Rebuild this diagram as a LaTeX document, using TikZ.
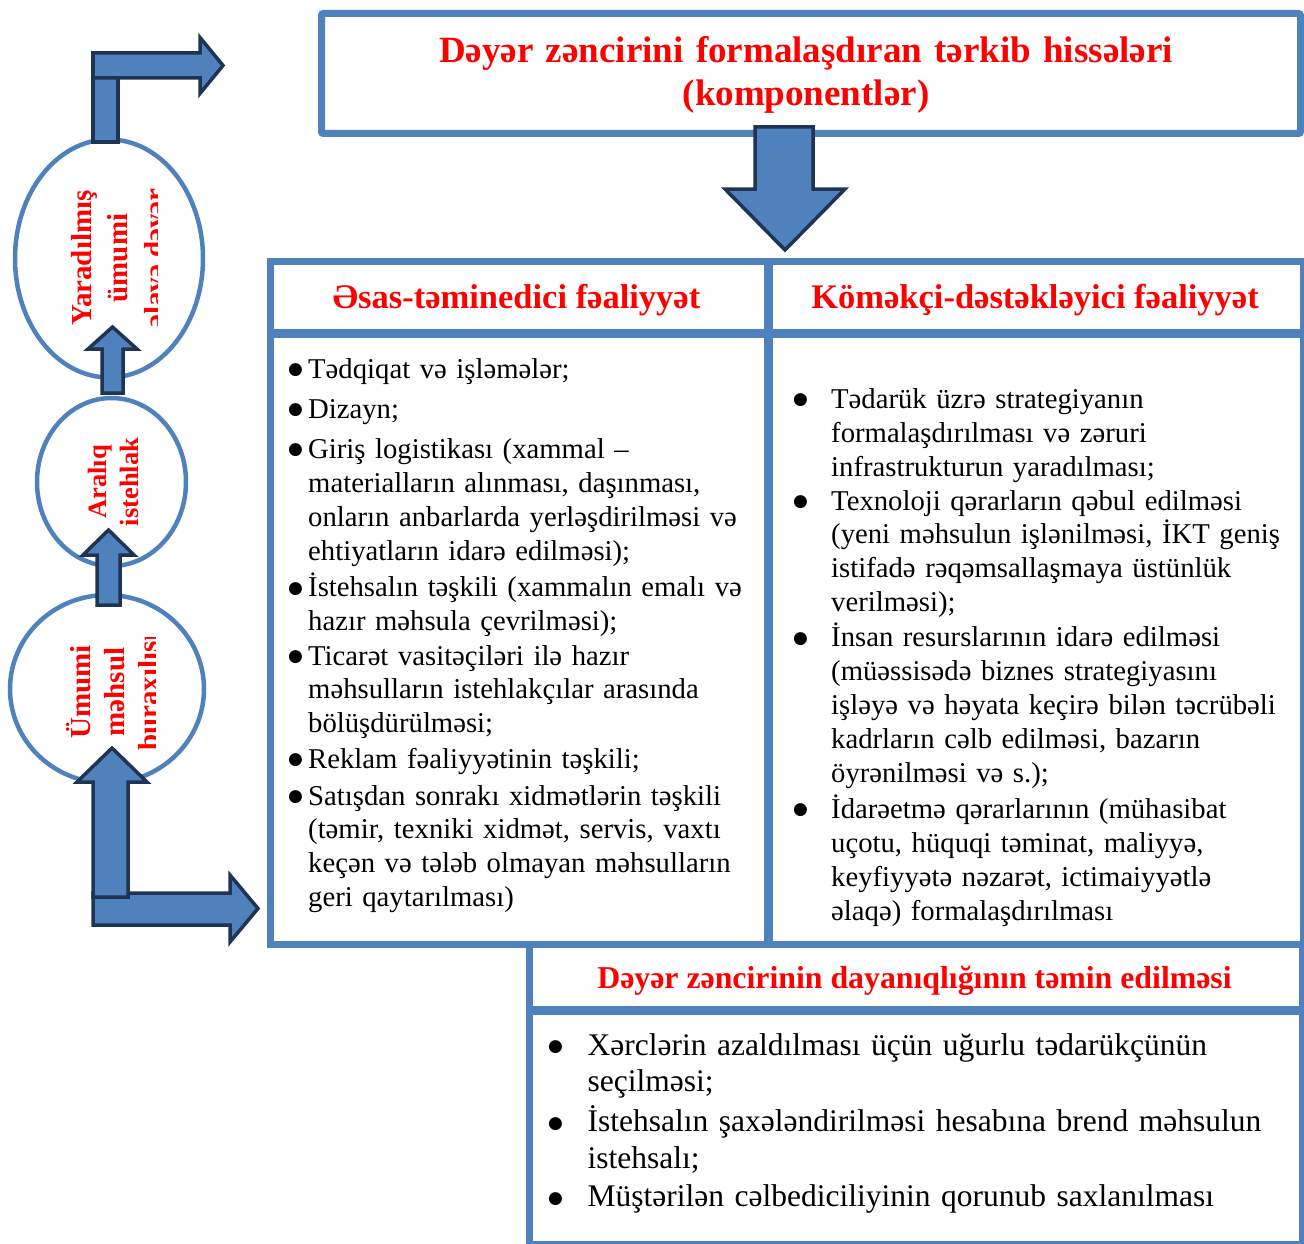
\documentclass[tikz,border=0pt]{standalone}
\usepackage{fontspec}
\setmainfont{Liberation Serif}
\newfontfamily\djv{DejaVu Sans}
\usetikzlibrary{shapes.geometric}
\definecolor{bblue}{RGB}{79,129,189}
\definecolor{adark}{RGB}{31,52,83}
\definecolor{tred}{RGB}{255,0,0}
\newcommand\bulx[1]{\makebox[#1][l]{\hspace{-2pt}\raisebox{3.5pt}{\djv\fontsize{17}{17}\selectfont ●}}}
\newcommand\itm[2]{\hangindent=#1\hangafter=1 \bulx{#1}#2\par}
\tikzset{
  frame/.style={draw=bblue, line width=7pt, inner sep=0pt, anchor=north west},
  sepline/.style={draw=bblue, line width=9pt},
  ell/.style={ellipse, draw=bblue, line width=4.5pt, fill=white, inner sep=0pt},
  blockarrow/.style={fill=bblue, draw=adark, line width=3.5pt, line join=miter, miter limit=10},
  headtxt/.style={text=tred, inner sep=0pt, anchor=base},
  eltxt/.style={text=tred, inner sep=0pt, anchor=base, rotate=90, font=\bfseries\fontsize{29}{34}\selectfont},
  bodytxt/.style={inner sep=0pt, anchor=base west, align=left, text width=700pt, font=\fontsize{28.7}{33.9}\selectfont},
  bodybig/.style={inner sep=0pt, anchor=base west, align=left, text width=740pt, font=\fontsize{31.5}{36.7}\selectfont},
}
\begin{document}
\begin{tikzpicture}[x=1pt, y=-1pt]
\useasboundingbox (0,0) rectangle (1304,1244);

% boxes
\node[frame, rounded corners=2pt, minimum width=979pt, minimum height=120pt] (topbox) at (318,10) {};
\node[frame, minimum width=1033pt, minimum height=682.7pt] (tbl) at (266.5,258.3) {};
\draw[sepline] (266.5,333.5) -- (1299.5,333.5);
\draw[sepline] (768,258.3) -- (768,941);
\node[frame, minimum width=772.5pt, minimum height=299.5pt] (bbox) at (526,941) {};
\draw[sepline] (526,1010) -- (1298.5,1010);

% ellipses
\node[ell, minimum width=188pt, minimum height=238pt] (e1) at (109,258.5) {};
\node[ell, minimum width=149pt, minimum height=168pt] (e2) at (111.5,482) {};
\node[ell, minimum width=194pt, minimum height=188pt] (e3) at (107,689) {};

\begin{scope}
\clip (40,186) rectangle (157,331);
\node[eltxt] (e1a) at (91,258) {Yaradılmış};
\node[eltxt] (e1b) at (127,258) {ümumi};
\node[eltxt] (e1c) at (164,258) {əlavə dəyər};
\end{scope}
\node[eltxt, font=\bfseries\fontsize{26.5}{32}\selectfont] (e2a) at (106,482) {Aralıq};
\node[eltxt, font=\bfseries\fontsize{26.5}{32}\selectfont] (e2b) at (138.5,482) {istehlak};
\begin{scope}
\clip (40,637) rectangle (155,749);
\node[eltxt] (e3a) at (90,692) {Ümumi};
\node[eltxt] (e3b) at (124,692) {məhsul};
\node[eltxt] (e3c) at (158,692) {buraxılışı};
\end{scope}

% block arrows
\draw[blockarrow] (93,53) rectangle (118,142);
\draw[blockarrow] (93,53) -- (200,53) -- (200,37.5) -- (223,65.5) -- (200,93.5) -- (200,78) -- (93,78) -- cycle;
\draw[blockarrow] (102,393) -- (102,349) -- (88,349) -- (112.5,327) -- (137,349) -- (123,349) -- (123,393) -- cycle;
\draw[blockarrow] (97,605) -- (97,555) -- (83,555) -- (108.5,530) -- (134,555) -- (120,555) -- (120,605) -- cycle;
\draw[blockarrow] (93,893) -- (230,893) -- (230,875) -- (258,908.5) -- (230,942) -- (230,925) -- (93,925) -- cycle;
\draw[blockarrow] (93,897) -- (93,782) -- (77,782) -- (112,748) -- (147,782) -- (128,782) -- (128,897) -- cycle;
\draw[blockarrow] (755,127) -- (813,127) -- (813,189) -- (845,189) -- (785,250) -- (725,189) -- (755,189) -- cycle;

% headings
\node[headtxt, font=\bfseries\fontsize{37}{43.3}\selectfont, text width=1000pt, align=center] (title) at (806,62.7) {Dəyər zəncirini formalaşdıran tərkib hissələri\\(komponentlər)};
\node[headtxt, font=\bfseries\fontsize{34.5}{40}\selectfont] (h1) at (516.5,308) {Əsas-təminedici fəaliyyət};
\node[headtxt, font=\bfseries\fontsize{34.5}{40}\selectfont] (h2) at (1035,308) {Köməkçi-dəstəkləyici fəaliyyət};
\node[headtxt, font=\bfseries\fontsize{31.8}{36}\selectfont] (h3) at (914.5,988) {Dəyər zəncirinin dayanıqlığının təmin edilməsi};

% left cell
\node[bodytxt] (l1) at (290,378.3) {\itm{18pt}{Tədqiqat və işləmələr;}};
\node[bodytxt] (l2) at (290,418.3) {\itm{18pt}{Dizayn;}};
\node[bodytxt] (l3) at (290,458.3) {\itm{18pt}{Giriş logistikası (xammal –\newline materialların alınması, daşınması,\newline onların anbarlarda yerləşdirilməsi və\newline ehtiyatların idarə edilməsi);}};
\node[bodytxt] (l4) at (290,596.7) {\itm{18pt}{İstehsalın təşkili (xammalın emalı və\newline hazır məhsula çevrilməsi);}};
\node[bodytxt] (l5) at (290,665) {\itm{18pt}{Ticarət vasitəçiləri ilə hazır\newline məhsulların istehlakçılar arasında\newline bölüşdürülməsi;}};
\node[bodytxt] (l6) at (290,768.3) {\itm{18pt}{Reklam fəaliyyətinin təşkili;}};
\node[bodytxt] (l7) at (290,805) {\itm{18pt}{Satışdan sonrakı xidmətlərin təşkili\newline (təmir, texniki xidmət, servis, vaxtı\newline keçən və tələb olmayan məhsulların\newline geri qaytarılması)}};

% right cell
\node[bodytxt] (r1) at (795,408.3) {\itm{36pt}{Tədarük üzrə strategiyanın\newline formalaşdırılması və zəruri\newline infrastrukturun yaradılması;}};
\node[bodytxt] (r2) at (795,510) {\itm{36pt}{Texnoloji qərarların qəbul edilməsi\newline (yeni məhsulun işlənilməsi, İKT geniş\newline istifadə rəqəmsallaşmaya üstünlük\newline verilməsi);}};
\node[bodytxt] (r3) at (795,646.7) {\itm{36pt}{İnsan resurslarının idarə edilməsi\newline (müəssisədə biznes strategiyasını\newline işləyə və həyata keçirə bilən təcrübəli\newline kadrların cəlb edilməsi, bazarın\newline öyrənilməsi və s.);}};
\node[bodytxt] (r4) at (795,818.3) {\itm{36pt}{İdarəetmə qərarlarının (mühasibat\newline uçotu, hüquqi təminat, maliyyə,\newline keyfiyyətə nəzarət, ictimaiyyətlə\newline əlaqə) formalaşdırılması}};

% bottom box
\node[bodybig] (b1) at (550,1055) {\itm{37.5pt}{Xərclərin azaldılması üçün uğurlu tədarükçünün\newline seçilməsi;}};
\node[bodybig] (b2) at (550,1131.7) {\itm{37.5pt}{İstehsalın şaxələndirilməsi hesabına brend məhsulun\newline istehsalı;}};
\node[bodybig] (b3) at (550,1206.7) {\itm{37.5pt}{Müştərilən cəlbediciliyinin qorunub saxlanılması}};
\end{tikzpicture}
\end{document}
